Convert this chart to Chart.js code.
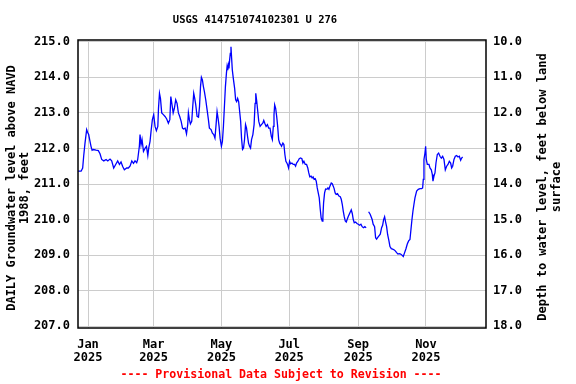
<!DOCTYPE html>
<html>
<head>
<meta charset="utf-8">
<script src="https://cdn.jsdelivr.net/npm/chart.js@4.4.1/dist/chart.umd.min.js"></script>
<style>
  html, body { margin: 0; padding: 0; background: #ffffff; }
  #c { display: block; }
</style>
</head>
<body>
<canvas id="c" width="576" height="384"></canvas>
<script>
// ---- Data (days since 2025-01-01, daily groundwater level in ft above NAVD 1988) ----
const days = [
  -9, -6.2, -4.8, -3.9, -2.7, -1.2, -0.3, 0.6, 1.8, 2.7, 3.7, 4.9, 7.2, 9.3, 10.8, 12.3, 14.2, 16.3, 17.8, 19.8,
  21.3, 23.1, 24.9, 26.7, 28.3, 29.7, 31.2, 32.7, 34.8, 36.3, 37.9, 39.4, 40.9, 42.3, 43.8, 44.7, 46.2, 46.8, 47.7, 48.6,
  49.9, 51.4, 52.6, 53.8, 54.6, 55.8, 56.7, 57.9, 59.1, 60.3, 61.5, 62.8, 63.4, 64.3, 65.2, 66.3, 67.8, 69.3, 70.8, 72.3,
  73.6, 74.5, 75.7, 76.6, 77.7, 78.9, 80.1, 81.3, 82.5, 83.8, 85.0, 85.9, 87.4, 88.6, 89.7, 90.3, 91.2, 92.1, 93.3, 94.2,
  95.1, 96.0, 96.9, 98.1, 99.4, 100.3, 101.2, 102.0, 102.9, 103.8, 104.7, 105.9, 107.1, 108.3, 109.2, 110.7, 111.9, 113.1, 114.2, 115.2,
  116.1, 117.0, 117.9, 118.8, 120.0, 120.9, 121.8, 122.7, 123.6, 124.5, 125.1, 125.7, 126.2, 126.8, 127.4, 128.0, 128.6, 129.2, 129.8, 130.7,
  131.9, 132.8, 133.7, 134.6, 135.5, 136.4, 137.3, 138.1, 139.0, 139.9, 140.8, 141.7, 142.6, 143.5, 144.4, 145.3, 146.2, 147.1, 148.3, 149.4,
  150.3, 150.9, 151.8, 152.7, 153.6, 154.8, 156.0, 157.2, 158.1, 159.0, 160.2, 161.4, 162.5, 163.7, 164.9, 165.8, 166.7, 167.3, 167.9, 168.8,
  169.7, 170.6, 171.5, 172.4, 173.2, 174.1, 175.3, 176.2, 177.1, 178.0, 178.9, 179.5, 180.4, 181.3, 182.2, 183.4, 184.6, 185.8, 186.7, 187.6,
  188.8, 190.0, 191.2, 192.4, 193.3, 194.2, 195.4, 196.6, 197.7, 198.6, 199.5, 200.7, 201.6, 202.5, 203.4, 204.4, 205.3, 206.2, 207.1, 208.0,
  208.9, 209.7, 210.7, 211.3, 211.9, 212.8, 213.7, 214.9, 215.8, 216.7, 217.6, 218.8, 219.7, 220.6, 221.4, 222.3, 223.2, 224.4, 225.7, 226.9,
  227.8, 228.7, 229.6, 230.5, 231.4, 232.3, 233.1, 234.0, 235.0, 235.9, 236.8, 237.7, 238.6, 239.5, 240.7, 241.9, 243.1, 244.3, 245.5, 246.6,
  247.8, 249.0, 250.2, 251.3, 252.4, 253.8, 255.6, 256.5, 257.8, 258.7, 259.6, 260.5, 261.7, 262.9, 264.1, 265.0, 265.9, 266.8, 267.7, 268.6,
  269.5, 270.7, 271.6, 272.8, 274.0, 275.2, 276.4, 277.6, 278.8, 280.0, 281.2, 282.4, 283.6, 284.8, 286.0, 287.2, 288.4, 289.6, 290.5, 291.4,
  292.3, 293.2, 294.1, 295.6, 297.1, 298.6, 300.1, 301.0, 301.6, 302.2, 303.1, 303.7, 304.3, 305.2, 306.7, 307.6, 308.8, 309.7, 310.3, 311.2,
  312.1, 313.0, 314.2, 315.4, 316.6, 317.8, 319.0, 320.2, 321.4, 322.6, 323.8, 325.0, 326.2, 327.1, 328.0, 329.2, 330.4, 331.6, 332.8, 334.0,
  335.2, 336.1, 337.0
];
const levels = [
  211.36, 211.36, 211.45, 211.78, 212.15, 212.53, 212.45, 212.39, 212.20, 212.06, 211.95, 211.97, 211.95, 211.94, 211.85, 211.69, 211.65, 211.69, 211.65, 211.70,
  211.65, 211.45, 211.55, 211.65, 211.55, 211.62, 211.49, 211.40, 211.45, 211.45, 211.51, 211.65, 211.58, 211.65, 211.60, 211.69, 212.06, 212.39, 212.10, 212.25,
  211.92, 212.01, 212.06, 211.80, 212.01, 212.20, 212.48, 212.81, 212.95, 212.62, 212.50, 212.62, 213.13, 213.55, 213.40, 213.00, 212.95, 212.90, 212.83, 212.71,
  212.81, 213.46, 213.20, 213.00, 213.13, 213.37, 213.27, 213.00, 212.90, 212.76, 212.57, 212.55, 212.57, 212.41, 212.67, 213.00, 212.81, 212.69, 212.76, 213.18,
  213.55, 213.41, 213.23, 212.90, 212.88, 213.18, 213.74, 214.00, 213.93, 213.74, 213.60, 213.37, 213.09, 212.81, 212.57, 212.53, 212.43, 212.39, 212.29, 212.67,
  213.04, 212.85, 212.62, 212.29, 212.06, 212.20, 212.62, 213.18, 213.74, 214.11, 214.30, 214.20, 214.35, 214.25, 214.49, 214.67, 214.86, 214.53, 214.21, 213.97,
  213.69, 213.37, 213.32, 213.41, 213.32, 213.04, 212.76, 212.29, 211.97, 212.01, 212.25, 212.67, 212.57, 212.34, 212.15, 212.06, 212.01, 212.25, 212.39, 212.67,
  213.27, 213.55, 213.32, 213.04, 212.76, 212.62, 212.67, 212.71, 212.79, 212.71, 212.62, 212.67, 212.57, 212.57, 212.34, 212.25, 212.62, 212.95, 213.23, 213.13,
  212.90, 212.62, 212.25, 212.15, 212.11, 212.06, 212.15, 212.11, 211.83, 211.64, 211.59, 211.55, 211.45, 211.64, 211.57, 211.59, 211.55, 211.55, 211.50, 211.59,
  211.64, 211.71, 211.73, 211.71, 211.59, 211.64, 211.55, 211.55, 211.45, 211.31, 211.20, 211.22, 211.17, 211.20, 211.13, 211.15, 211.08, 210.89, 210.75, 210.61,
  210.29, 210.05, 209.96, 210.10, 210.47, 210.75, 210.86, 210.85, 210.89, 210.85, 210.94, 211.03, 211.01, 210.94, 210.87, 210.75, 210.71, 210.73, 210.66, 210.64,
  210.57, 210.43, 210.24, 210.08, 209.96, 209.93, 210.00, 210.08, 210.15, 210.21, 210.27, 210.17, 210.00, 209.91, 209.93, 209.89, 209.87, 209.84, 209.87, 209.80,
  209.77, 209.80, 209.77, null, 210.22, 210.15, 210.00, 209.87, 209.80, 209.49, 209.45, 209.49, 209.54, 209.59, 209.77, 209.84, 210.00, 210.08, 209.93, 209.80,
  209.58, 209.40, 209.24, 209.18, 209.17, 209.15, 209.12, 209.07, 209.03, 209.04, 209.03, 209.00, 208.96, 209.07, 209.18, 209.31, 209.40, 209.44, 209.72, 210.00,
  210.24, 210.43, 210.61, 210.80, 210.85, 210.87, 210.87, 210.89, 211.13, 211.69, 211.87, 212.06, 211.69, 211.55, 211.55, 211.45, 211.40, 211.27, 211.08, 211.22,
  211.31, 211.59, 211.83, 211.87, 211.78, 211.73, 211.78, 211.69, 211.40, 211.50, 211.55, 211.64, 211.59, 211.45, 211.50, 211.69, 211.78, 211.80, 211.76, 211.78,
  211.67, 211.73, 211.76
];
const monthDays = [0, 59, 120, 181, 243, 304];
const monthLabels = ['Jan', 'Mar', 'May', 'Jul', 'Sep', 'Nov'];
const yearLabel = '2025';
const levelTicks = [207, 208, 209, 210, 211, 212, 213, 214, 215];
const depthTicks = [10, 11, 12, 13, 14, 15, 16, 17, 18];

const titleText = 'USGS 414751074102301 U 276';
const leftTitle = ['DAILY Groundwater level above NAVD', '1988, feet'];
const rightTitle = ['Depth to water level, feet below land', 'surface'];
const footerText = '---- Provisional Data Subject to Revision ----';

const FONT = "'DejaVu Sans Mono', 'Liberation Mono', monospace";
const tickFont = { family: FONT, size: 12, weight: 'bold', lineHeight: 1.1 };

const points = days.map((d, i) => ({ x: d, y: levels[i] }));

const textPlugin = {
  id: 'texts',
  afterDraw(chart) {
    const ctx = chart.ctx;
    const a = chart.chartArea;
    ctx.save();
    // plot frame
    ctx.strokeStyle = '#000000';
    ctx.lineWidth = 1.5;
    ctx.strokeRect(a.left, a.top, a.right - a.left, a.bottom - a.top);
    // title
    ctx.fillStyle = '#000000';
    ctx.textAlign = 'center';
    ctx.textBaseline = 'middle';
    ctx.font = "bold 10.5px " + FONT;
    ctx.fillText(titleText, 255, 20);
    // footer
    ctx.fillStyle = '#ff0000';
    ctx.font = "bold 11.6px " + FONT;
    ctx.fillText(footerText, 281, 375);
    // axis titles
    ctx.fillStyle = '#000000';
    ctx.font = "bold 12px " + FONT;
    const drawRot = (lines, xs, cy) => {
      lines.forEach((t, i) => {
        ctx.save();
        ctx.translate(xs[i], cy);
        ctx.rotate(-Math.PI / 2);
        ctx.fillText(t, 0, 0);
        ctx.restore();
      });
    };
    drawRot(leftTitle, [12, 25], 188);
    drawRot(rightTitle, [543, 557], 187);
    ctx.restore();
  }
};

new Chart(document.getElementById('c'), {
  type: 'line',
  data: {
    datasets: [{
      data: points,
      borderColor: '#0000ff',
      borderWidth: 1.3,
      pointRadius: 0,
      tension: 0,
      spanGaps: false,
      xAxisID: 'x',
      yAxisID: 'y'
    }]
  },
  options: {
    responsive: false,
    animation: false,
    devicePixelRatio: 1,
    layout: { padding: { top: 40, left: 0, right: 0, bottom: 0 } },
    plugins: { legend: { display: false }, tooltip: { enabled: false }, title: { display: false } },
    scales: {
      x: {
        type: 'linear',
        min: -9,
        max: 358,
        afterBuildTicks: s => { s.ticks = monthDays.map(v => ({ value: v })); },
        afterFit: s => { s.height = 56; },
        ticks: {
          autoSkip: false,
          maxRotation: 0,
          minRotation: 0,
          padding: 10,
          color: '#000000',
          font: tickFont,
          callback: v => [monthLabels[monthDays.indexOf(v)], yearLabel]
        },
        grid: { color: '#cccccc', lineWidth: 1, drawTicks: false },
        border: { display: false }
      },
      y: {
        position: 'left',
        min: 206.95,
        max: 215.05,
        afterBuildTicks: s => { s.ticks = levelTicks.map(v => ({ value: v })); },
        afterFit: s => { s.width = 78; },
        ticks: { padding: 8, color: '#000000', font: tickFont, callback: v => Number(v).toFixed(1) },
        grid: { color: '#cccccc', lineWidth: 1, drawTicks: false },
        border: { display: false }
      },
      y2: {
        position: 'right',
        reverse: true,
        min: 9.95,
        max: 18.05,
        afterBuildTicks: s => { s.ticks = depthTicks.map(v => ({ value: v })); },
        afterFit: s => { s.width = 90; },
        ticks: { padding: 7, color: '#000000', font: tickFont, callback: v => Number(v).toFixed(1) },
        grid: { display: false, drawTicks: false },
        border: { display: false }
      }
    }
  },
  plugins: [textPlugin]
});
</script>
</body>
</html>
